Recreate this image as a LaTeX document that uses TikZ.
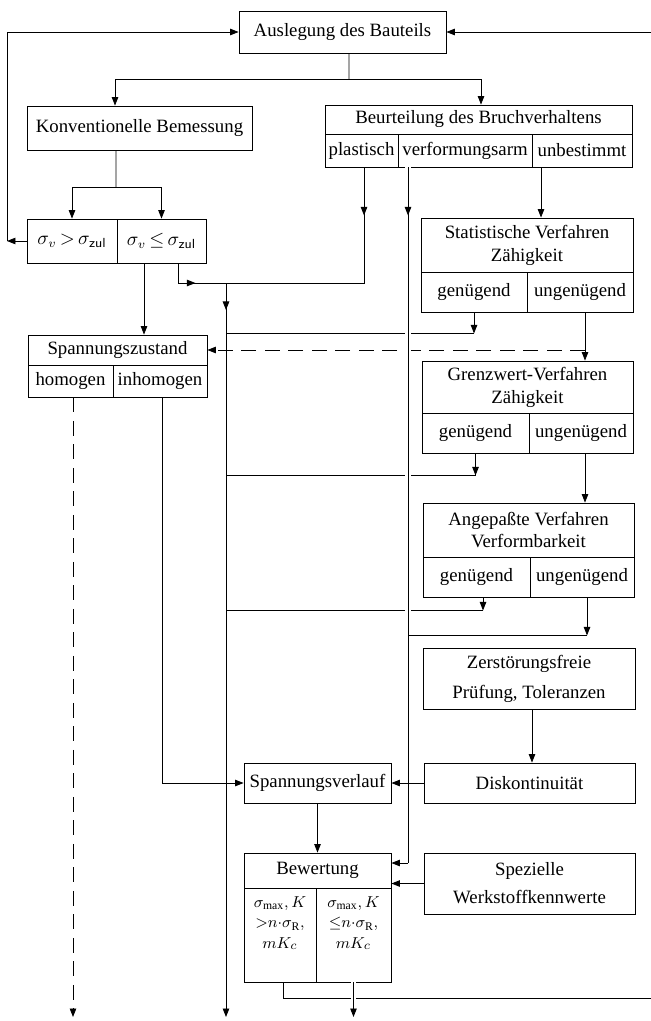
\documentclass[tikz,border=0pt]{standalone}
\usepackage{fontspec}
\setmainfont{Liberation Serif}
\usetikzlibrary{arrows.meta, positioning, decorations.markings}

\tikzset{
    cell/.style={draw, inner sep=1pt, align=center},
    celltext/.style={align=center, inner sep=2pt, font=\fontsize{9.5}{11.5}\selectfont},
    dashline/.style={dash pattern=on 0.3cm off 0.17cm},
    hop/.style={preaction={draw=white, line width=3pt}},
    midarrow/.style={postaction={decorate},
        decoration={markings, mark=at position #1 with {\arrow{>}}}},
}

\begin{document}
\begin{tikzpicture}[x=0.02cm, y=-0.02cm, line width=0.5pt,
        >={Triangle[length=1.7mm, width=1.3mm]},
        font=\fontsize{10.7}{13}\selectfont]
    \useasboundingbox (0, 0) rectangle (650, 1021);

    \node[cell, minimum width=4.14cm, minimum height=0.84cm] at (342.5, 32) (ausl) {Auslegung des Bauteils};
    \node[cell, minimum width=4.5cm, minimum height=0.88cm] at (139.5, 128) (konv) {Konventionelle Bemessung};
    \node[cell, minimum width=1.8cm, minimum height=0.88cm] at (72, 241) (sgt) {$\sigma_v\,{>}\,\sigma_{\mathsf{zul}}$};
    \node[cell, minimum width=1.78cm, minimum height=0.88cm] at (161.5, 241) (sle) {$\sigma_v\,{\le}\,\sigma_{\mathsf{zul}}$};

    \node[cell, minimum width=6.14cm, minimum height=0.58cm] at (478.5, 119.5) (beur) {Beurteilung des Bruchverhaltens};
    \node[cell, minimum width=1.46cm, minimum height=0.66cm] at (361.5, 150.5) (plast) {plastisch};
    \node[cell, minimum width=2.68cm, minimum height=0.66cm] at (465, 150.5) (verf) {verformungsarm};
    \node[cell, minimum width=2cm, minimum height=0.66cm] at (582, 150.5) (unbe) {unbestimmt};

    \node[cell, minimum width=4.24cm, minimum height=1.08cm] at (527, 245) (stat) {Statistische Verfahren\\Zähigkeit};
    \node[cell, minimum width=2.12cm, minimum height=0.8cm] at (474, 292) (statg) {genügend};
    \node[cell, minimum width=2.12cm, minimum height=0.8cm] at (580, 292) (statu) {ungenügend};

    \node[cell, minimum width=3.58cm, minimum height=0.6cm] at (117.5, 350) (span) {Spannungszustand};
    \node[cell, minimum width=1.7cm, minimum height=0.64cm] at (70.5, 381) (homo) {homogen};
    \node[cell, minimum width=1.88cm, minimum height=0.64cm] at (160, 381) (inho) {inhomogen};

    \node[cell, minimum width=4.22cm, minimum height=1.04cm] at (527.5, 387) (grenz) {Grenzwert-Verfahren\\Zähigkeit};
    \node[cell, minimum width=2.14cm, minimum height=0.8cm] at (475.5, 433) (grenzg) {genügend};
    \node[cell, minimum width=2.08cm, minimum height=0.8cm] at (581, 433) (grenzu) {ungenügend};

    \node[cell, minimum width=4.22cm, minimum height=1.08cm] at (528.5, 530) (angep) {Angepaßte Verfahren\\Verformbarkeit};
    \node[cell, minimum width=2.14cm, minimum height=0.8cm] at (476.5, 577) (angepg) {genügend};
    \node[cell, minimum width=2.08cm, minimum height=0.8cm] at (582, 577) (angepu) {ungenügend};

    \node[cell, minimum width=4.24cm, minimum height=1.22cm] at (529, 678.5) (zerst) {Zerstörungsfreie\\[4pt]Prüfung, Toleranzen};
    \node[cell, minimum width=4.22cm, minimum height=0.8cm] at (529.5, 783) (disk) {Diskontinuität};
    \node[cell, minimum width=2.94cm, minimum height=0.8cm] at (317.5, 783) (sverl) {Spannungsverlauf};
    \node[cell, minimum width=2.94cm, minimum height=0.7cm] at (317.5, 870.5) (bew) {Bewertung};
    \node[cell, minimum width=1.44cm, minimum height=1.88cm] at (280, 935) (bewl) {};
    \node[cell, minimum width=1.5cm, minimum height=1.88cm] at (353.5, 935) (bewr) {};
    \node[celltext, below=3pt of bewl.north] (bewltx) {$\sigma_{\max}, K$\\${>}n{\cdot}\sigma_{\mathrm{R}},$\\$mK_c$};
    \node[celltext, below=3pt of bewr.north] (bewrtx) {$\sigma_{\max}, K$\\${\le}n{\cdot}\sigma_{\mathrm{R}},$\\$mK_c$};
    \node[cell, minimum width=4.22cm, minimum height=1.22cm] at (529.5, 883.5) (spez) {Spezielle\\[3pt]Werkstoffkennwerte};

    \coordinate (split) at (349, 79);
    \coordinate (ksplit) at (116, 187);
    \coordinate (lback) at (7, 241);
    \coordinate (main) at (226, 283);
    \coordinate (mainend) at (226, 1017);
    \coordinate (homend) at (73, 1017);
    \coordinate (vbend) at (408, 863);
    \coordinate (rback) at (653, 998);

    % Verzweigung oben
    \draw ([xshift=0.13cm]ausl.south) -- (split);
    \draw[->] (split) -| ([xshift=-0.49cm]konv.north);
    \draw[->] (split) -| ([xshift=0.05cm]beur.north);
    \draw ([xshift=-0.47cm]konv.south) -- (ksplit);
    \draw[->] (ksplit) -| (sgt.north);
    \draw[->] (ksplit) -| (sle.north);

    % Rueckfuehrung links
    \draw[->] (sgt.west) -- (lback);
    \draw[->] (lback) |- (ausl.west);

    \draw[->] ([xshift=-0.35cm]sle.south) -- ([xshift=-0.35cm]sle.south |- span.north);
    \draw[midarrow=0.74cm] ([xshift=0.33cm]sle.south) |- (main);
    \draw[midarrow=0.96cm] ([xshift=0.05cm]plast.south) |- (main);
    \draw[->, midarrow=0.54cm] (main) -- (mainend);

    \draw[->] ([xshift=-0.82cm]unbe.south) -- ([xshift=-0.82cm]unbe.south |- stat.north);
    \draw[->] ([xshift=0.1cm]statu.south) -- ([xshift=0.1cm]statu.south |- grenz.north);
    \draw[->] ([xshift=0.08cm]grenzu.south) -- ([xshift=0.08cm]grenzu.south |- angep.north);

    \draw[->] (statg.south) -- ++(0, 21) coordinate (ok1);
    \draw (ok1) -- (ok1 -| main);
    \draw[->] (grenzg.south) -- ++(0, 22) coordinate (ok2);
    \draw (ok2) -- (ok2 -| main);
    \draw[->] ([xshift=0.13cm]angepg.south) -- ++(0, 13) coordinate (ok3);
    \draw (ok3) -- (ok3 -| main);
    \draw[dashline, ->] ([xshift=0.1cm]statu.south |- span.east) -- (span.east);

    % verformungsarm
    \draw[hop, midarrow=0.96cm] (verf.south -| vbend) -- (vbend);
    \draw[->] (vbend) -- (vbend -| bew.east);
    \draw[->] ([xshift=0.1cm]angepu.south) -- ++(0, 38) coordinate (nok3);
    \draw (nok3) -- (nok3 -| vbend);

    \draw[dashline, ->] (homo.south -| homend) -- (homend);
    \draw[->] ([xshift=0.04cm]inho.south) |- (sverl.west);
    \draw[->] ([xshift=0.06cm]zerst.south) -- ([xshift=0.06cm]zerst.south |- disk.north);
    \path[->]
        (disk) edge (sverl)
        (sverl) edge (bew)
        (spez.west) edge (spez.west -| bew.east);

    % Rueckfuehrung rechts
    \draw[->] ([xshift=0.06cm]bewl.south) |- (rback) |- (ausl.east);
    \draw[hop, ->] (bewr.south) -- (bewr.south |- homend);
\end{tikzpicture}
\end{document}
